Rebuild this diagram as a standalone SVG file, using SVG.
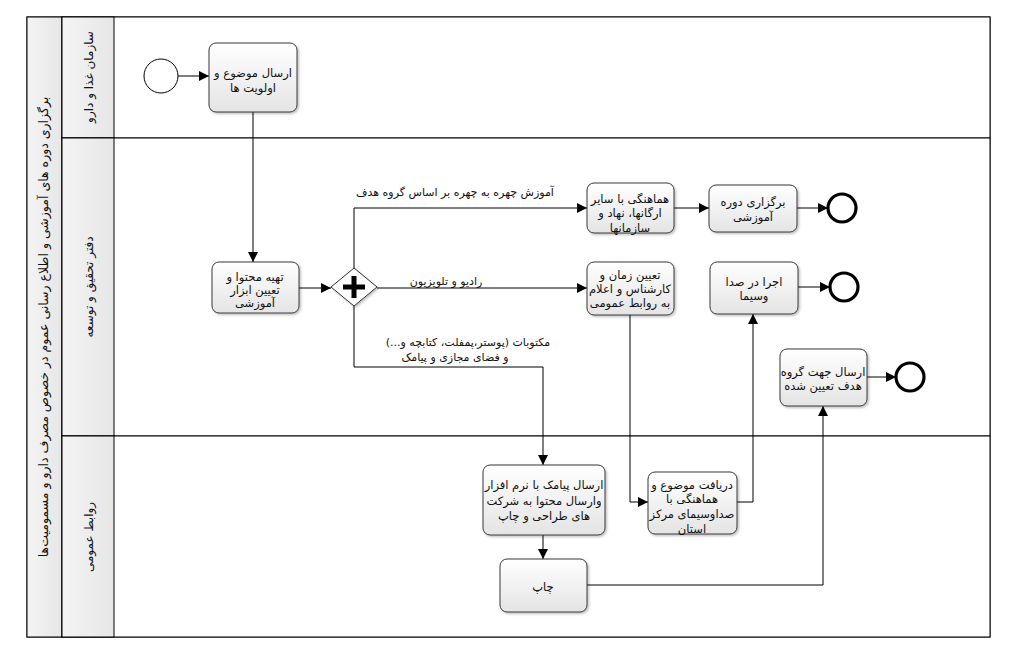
<svg xmlns="http://www.w3.org/2000/svg" width="1017" height="653" viewBox="0 0 1017 653">
<defs>
  <linearGradient id="taskGrad" x1="0" y1="0" x2="0" y2="1">
    <stop offset="0" stop-color="#ffffff"/>
    <stop offset="1" stop-color="#e4e4e4"/>
  </linearGradient>
  <linearGradient id="laneGrad" x1="0" y1="0" x2="1" y2="0">
    <stop offset="0" stop-color="#f4f4f4"/>
    <stop offset="1" stop-color="#e6e6e6"/>
  </linearGradient>
  <marker id="arrow" viewBox="0 0 10 10" refX="10" refY="5" markerWidth="10" markerHeight="10" markerUnits="userSpaceOnUse" orient="auto">
    <path d="M0,0 L10,5 L0,10 z" fill="#000"/>
  </marker>
  <filter id="shadow" x="-10%" y="-10%" width="130%" height="130%">
    <feDropShadow dx="1.5" dy="1.5" stdDeviation="1" flood-color="#000" flood-opacity="0.25"/>
  </filter>
</defs>
<style>
  text { font-family: "DejaVu Sans", "Noto Sans", sans-serif; font-size: 11.5px; fill: #111; text-anchor: middle; }
  .task { fill: url(#taskGrad); stroke: #3a3a3a; stroke-width: 1; filter: url(#shadow); }
  .conn { fill: none; stroke: #000; stroke-width: 1; marker-end: url(#arrow); }
  .start { fill: #fff; stroke: #000; stroke-width: 1; }
  .end { fill: #fff; stroke: #000; stroke-width: 3.2; }
  .lanehead { fill: url(#laneGrad); stroke: #000; stroke-width: 1; }
  .lanebody { fill: #fff; stroke: #000; stroke-width: 1; }
  .lbl { font-size: 12px; }
  .pool { font-size: 12.5px; }
  .edge { font-size: 11px; }
</style>
<rect width="1017" height="653" fill="#fff"/>

<g id="pool">
  <rect class="lanebody" x="27" y="17" width="963" height="620"/>
  <rect class="lanehead" x="27" y="17" width="35" height="620"/>
  <text class="pool" transform="translate(48,327) rotate(-90)">برگزاری دوره های آموزشی و اطلاع رسانی عموم در خصوص مصرف دارو و مسمومیت‌ها</text>
</g>
<g id="lane1">
  <rect class="lanebody" x="62" y="17" width="928" height="121"/>
  <rect class="lanehead" x="62" y="17" width="52" height="121"/>
  <text class="lbl" transform="translate(93,77) rotate(-90)">سازمان غذا و دارو</text>
</g>
<g id="lane2">
  <rect class="lanebody" x="62" y="138" width="928" height="298"/>
  <rect class="lanehead" x="62" y="138" width="52" height="298"/>
  <text class="lbl" transform="translate(93,287) rotate(-90)">دفتر تحقیق و توسعه</text>
</g>
<g id="lane3">
  <rect class="lanebody" x="62" y="436" width="928" height="201"/>
  <rect class="lanehead" x="62" y="436" width="52" height="201"/>
  <text class="lbl" transform="translate(93,537) rotate(-90)">روابط عمومی</text>
</g>

<g id="connectors">
  <path class="conn" d="M178,76 H209"/>
  <path class="conn" d="M253,112 V262"/>
  <path class="conn" d="M299,288 H331"/>
  <path class="conn" d="M354,269 V208 H587"/>
  <path class="conn" d="M377,288 H587"/>
  <path class="conn" d="M354,306 V367 H543 V465"/>
  <path class="conn" d="M543,535 V559"/>
  <path class="conn" d="M630,315 V502 H648"/>
  <path class="conn" d="M737,502 H753 V314"/>
  <path class="conn" d="M587,585 H823 V406"/>
  <path class="conn" d="M674,208 H709"/>
  <path class="conn" d="M797,208 H828"/>
  <path class="conn" d="M798,287 H830"/>
  <path class="conn" d="M867,377 H896"/>
  <text class="edge" x="455" y="196">آموزش چهره به چهره بر اساس گروه هدف</text>
  <text class="edge" x="446" y="285">رادیو و تلویزیون</text>
  <text class="edge" x="468" y="346">مکتوبات  (پوستر،پمفلت، کتابچه و...)</text>
  <text class="edge" x="455" y="361">و فضای مجازی و پیامک</text>
</g>

<g id="start">
  <circle class="start" cx="161" cy="76" r="17"/>
</g>
<g id="t1">
  <rect class="task" x="209" y="43" width="88" height="69" rx="7"/>
  <text x="253" y="77">ارسال موضوع و</text>
  <text x="253" y="92">اولویت ها</text>
</g>
<g id="t2">
  <rect class="task" x="212" y="262" width="87" height="51" rx="7"/>
  <text x="255" y="281">تهیه محتوا و</text>
  <text x="255" y="294">تعیین ابزار</text>
  <text x="255" y="307">آموزشی</text>
</g>
<g id="gateway">
  <path d="M354,268 L377,287 L354,306 L331,287 Z" fill="#fff" stroke="#333" stroke-width="1" filter="url(#shadow)"/>
  <path d="M343,287 H365 M354,276 V298" stroke="#000" stroke-width="5"/>
</g>
<g id="t3">
  <rect class="task" x="587" y="183" width="87" height="50" rx="7"/>
  <text x="630" y="203">هماهنگی با سایر</text>
  <text x="630" y="217">ارگانها، نهاد و</text>
  <text x="630" y="232">سازمانها</text>
</g>
<g id="t4">
  <rect class="task" x="587" y="262" width="87" height="53" rx="7"/>
  <text x="630" y="279">تعیین زمان و</text>
  <text x="630" y="293">کارشناس و اعلام</text>
  <text x="630" y="307">به روابط عمومی</text>
</g>
<g id="t6">
  <rect class="task" x="709" y="185" width="88" height="47" rx="7"/>
  <text x="753" y="206">برگزاری دوره</text>
  <text x="753" y="221">آموزشی</text>
</g>
<g id="end1">
  <circle class="end" cx="842" cy="208" r="14"/>
</g>
<g id="t7">
  <rect class="task" x="710" y="262" width="88" height="52" rx="7"/>
  <text x="754" y="286">اجرا در صدا</text>
  <text x="754" y="300">وسیما</text>
</g>
<g id="end2">
  <circle class="end" cx="844" cy="287" r="14"/>
</g>
<g id="t8">
  <rect class="task" x="780" y="349" width="87" height="57" rx="7"/>
  <text x="823" y="376">ارسال جهت گروه</text>
  <text x="823" y="390">هدف تعیین شده</text>
</g>
<g id="end3">
  <circle class="end" cx="910" cy="377" r="14"/>
</g>
<g id="t5">
  <rect class="task" x="483" y="465" width="122" height="70" rx="7"/>
  <text x="544" y="489">ارسال پیامک با نرم افزار</text>
  <text x="544" y="505">وارسال محتوا به شرکت</text>
  <text x="544" y="520">های طراحی و چاپ</text>
</g>
<g id="t9">
  <rect class="task" x="648" y="472" width="89" height="62" rx="7"/>
  <text x="692" y="489">دریافت موضوع و</text>
  <text x="692" y="503">هماهنگی با</text>
  <text x="692" y="518">صداوسیمای مرکز</text>
  <text x="692" y="533">استان</text>
</g>
<g id="t10">
  <rect class="task" x="500" y="559" width="87" height="53" rx="7"/>
  <text x="543" y="591">چاپ</text>
</g>
</svg>
